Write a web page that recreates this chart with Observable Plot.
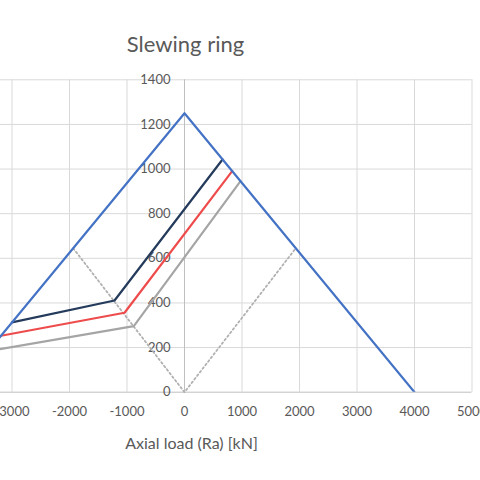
<!DOCTYPE html>
<html>
<head>
<meta charset="utf-8">
<script src="https://cdn.jsdelivr.net/npm/d3@7"></script>
<script src="https://cdn.jsdelivr.net/npm/@observablehq/plot@0.6"></script>
<style>
  html, body { margin: 0; padding: 0; background: #fff; }
  #chart { width: 480px; height: 480px; overflow: hidden; }
</style>
</head>
<body>
<div id="chart"></div>
<script>
// Axis ticks
const xTicks = [-3000, -2000, -1000, 0, 1000, 2000, 3000, 4000, 5000];
const yTicks = [0, 200, 400, 600, 800, 1000, 1200, 1400];

// Series (Axial load kN, Tilting moment)
const envelopeX = [-4000, 0, 4000];
const envelopeY = [0, 1250, 0];
const darkX = [-3000, -1217, 661];
const darkY = [313, 411, 1043];
const redX = [-3190, -1043, 829];
const redY = [253, 356, 991];
const greyX = [-3412, -882, 974];
const greyY = [184, 296, 946];
const dottedX = [-1935, 0, 1935];
const dottedY = [645, 0, 645];

const pts = (xs, ys) => xs.map((x, i) => ({x, y: ys[i]}));

const font = "Lato, 'Open Sans', sans-serif";
const textColor = "#595959";

const chart = Plot.plot({
  width: 480,
  height: 480,
  marginTop: 79.3,
  marginBottom: 88.3,
  marginLeft: 0,
  marginRight: 8.5,
  style: {fontFamily: font, background: "#fff", overflow: "hidden"},
  x: {domain: [-3200, 5000], axis: null},
  y: {domain: [0, 1400], axis: null},
  marks: [
    Plot.ruleX(xTicks.filter(d => d !== 0), {stroke: "#d9d9d9", strokeWidth: 1}),
    Plot.ruleY(yTicks.filter(d => d !== 0), {stroke: "#d9d9d9", strokeWidth: 1}),
    Plot.ruleX([0], {stroke: "#bfbfbf", strokeWidth: 1}),
    Plot.ruleY([0], {stroke: "#bfbfbf", strokeWidth: 1}),
    Plot.text(yTicks, {x: () => 0, y: d => d, text: d => String(d), textAnchor: "end", dx: -14, fill: textColor, fontSize: 13}),
    Plot.text(xTicks, {x: d => d, y: () => 0, text: d => String(d), textAnchor: "middle", dy: 20, fill: textColor, fontSize: 13}),
    Plot.line(pts(dottedX, dottedY), {x: "x", y: "y", stroke: "#b0b0b0", strokeWidth: 1.8, strokeDasharray: "1.8,2.7"}),
    Plot.line(pts(greyX, greyY), {x: "x", y: "y", stroke: "#a5a5a5", strokeWidth: 2.2, clip: true}),
    Plot.line(pts(redX, redY), {x: "x", y: "y", stroke: "#ee4c4c", strokeWidth: 2.2, clip: true}),
    Plot.line(pts(darkX, darkY), {x: "x", y: "y", stroke: "#243b5c", strokeWidth: 2.2, clip: true}),
    Plot.line(pts(envelopeX, envelopeY), {x: "x", y: "y", stroke: "#4472c4", strokeWidth: 2.2, clip: true}),
    Plot.text(["Slewing ring"], {frameAnchor: "top-left", dx: 185, dy: -27.6, lineAnchor: "bottom", textAnchor: "middle", fontSize: 22, fill: textColor}),
    Plot.text(["Axial load (Ra) [kN]"], {frameAnchor: "bottom-left", dx: 191, dy: 56.3, lineAnchor: "bottom", textAnchor: "middle", fontSize: 16, fill: textColor})
  ]
});
document.getElementById("chart").appendChild(chart);
</script>
</body>
</html>
